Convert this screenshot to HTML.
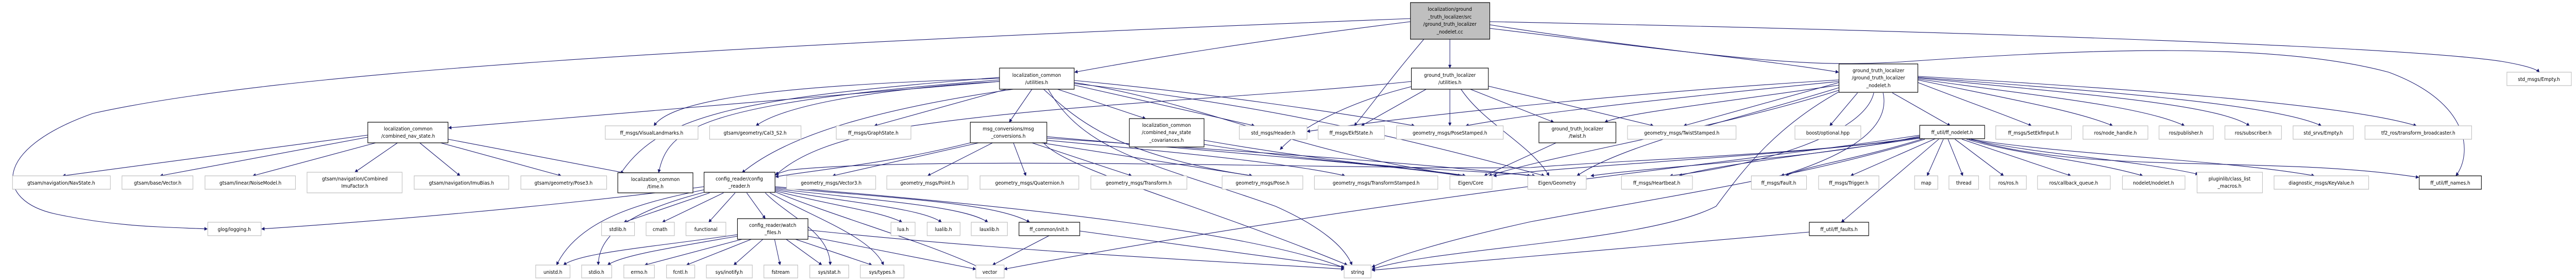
<!DOCTYPE html>
<html><head><meta charset="utf-8"><style>
html,body{margin:0;padding:0;background:#fff;overflow:hidden;width:100%;height:100%;}
svg{display:block;position:absolute;left:0;top:0;width:100vw;height:100vh;}
text{font-family:"DejaVu Sans","Liberation Sans",sans-serif;font-size:10px;fill:#000;text-anchor:middle;}
.l{fill:#fff;stroke:#bfbfbf;stroke-width:1.2;}
.k{fill:#fff;stroke:#000;stroke-width:1.2;}
.e{fill:none;stroke:#191970;stroke-width:1.1;marker-end:url(#a);}
</style></head><body>
<svg viewBox="0 0 5554 543" preserveAspectRatio="none" xmlns="http://www.w3.org/2000/svg">
<defs><marker id="a" viewBox="0 0 10 10" refX="9" refY="5" markerWidth="9" markerHeight="7" markerUnits="userSpaceOnUse" orient="auto"><path d="M0,0 L10,5 L0,10 z" fill="#191970"/></marker></defs>

<path class="e" d="M3126,76 L3126,132"/>
<path class="e" d="M3041,42 C2700,80 2500,110 2317,140"/>
<path class="e" d="M3212,48 C3500,90 3800,115 3964,140"/>
<path class="e" d="M3070,76 C3000,150 2960,200 2920,244"/>
<path class="e" d="M3212,42 C4200,60 5200,90 5400,120 C5450,128 5470,135 5475,140"/>
<path class="e" d="M3212,55 C3800,120 3900,130 4100,120 C4500,95 4900,80 5150,140 C5330,200 5330,300 5295,341"/>
<path class="e" d="M3041,36 C1500,90 600,140 200,220 C-20,290 -10,390 120,415 C250,440 350,440 447,444"/>

<path class="e" d="M2155,158 L967,248"/>
<path class="e" d="M2155,152 C1700,165 1450,190 1410,244"/>
<path class="e" d="M2155,158 C1850,175 1680,210 1630,244"/>
<path class="e" d="M2170,173 L1885,244"/>
<path class="e" d="M2225,173 L2176,237"/>
<path class="e" d="M2280,173 L2470,230"/>
<path class="e" d="M2316,165 L2705,244"/>
<path class="e" d="M2155,150 C1600,190 1420,220 1335,341"/>
<path class="e" d="M2155,155 C1500,200 1440,250 1420,335"/>
<path class="e" d="M2185,173 C1900,210 1700,260 1600,335"/>
<path class="e" d="M2250,173 C2320,230 2400,300 2700,341"/>
<path class="e" d="M2316,160 C2600,200 2800,300 3160,341"/>
<path class="e" d="M2316,162 C2700,200 3000,260 3330,341"/>
<path class="e" d="M2316,156 C2600,180 2900,220 3050,244"/>
<path class="e" d="M2260,173 C2340,300 2500,320 2750,400 C2850,440 2900,480 2915,514"/>

<path class="e" d="M793,262 L135,341"/>
<path class="e" d="M793,266 L345,341"/>
<path class="e" d="M810,277 L545,341"/>
<path class="e" d="M857,277 L765,334"/>
<path class="e" d="M905,277 L992,341"/>
<path class="e" d="M950,277 L1210,341"/>
<path class="e" d="M966,270 L1345,335"/>

<path class="e" d="M2110,277 L1795,341"/>
<path class="e" d="M2140,277 L2000,341"/>
<path class="e" d="M2185,277 L2212,341"/>
<path class="e" d="M2225,277 L2440,341"/>
<path class="e" d="M2245,277 L2700,341"/>
<path class="e" d="M2257,272 C2600,300 2800,320 2900,341"/>
<path class="e" d="M2257,265 C2700,300 3000,320 3150,341"/>
<path class="e" d="M2257,268 C2800,300 3100,320 3300,341"/>
<path class="e" d="M2092,277 C1900,320 1750,330 1672,343"/>
<path class="e" d="M2250,277 C2300,330 2600,400 2905,514"/>

<path class="e" d="M2596,272 C2900,320 3100,330 3160,341"/>
<path class="e" d="M2596,280 C2950,330 3200,330 3310,341"/>

<path class="e" d="M1518,362 C1200,400 800,430 564,444"/>
<path class="e" d="M1530,374 L1345,431"/>
<path class="e" d="M1560,374 L1428,431"/>
<path class="e" d="M1585,374 L1528,431"/>
<path class="e" d="M1610,374 L1650,424"/>
<path class="e" d="M1671,370 C1800,400 1900,410 1945,431"/>
<path class="e" d="M1671,368 C1850,395 1990,405 2030,431"/>
<path class="e" d="M1671,366 C1900,390 2080,400 2130,431"/>
<path class="e" d="M1671,364 C1950,385 2150,395 2220,431"/>
<path class="e" d="M1518,368 C1400,390 1250,420 1200,514"/>
<path class="e" d="M1522,372 C1400,400 1290,440 1290,514"/>
<path class="e" d="M1650,374 C1700,420 1790,450 1790,514"/>
<path class="e" d="M1660,374 C1750,420 1880,460 1905,514"/>
<path class="e" d="M1671,372 C1800,420 2000,470 2115,520"/>
<path class="e" d="M1671,362 C2200,400 2700,450 2900,520"/>

<path class="e" d="M1590,455 C1400,480 1250,490 1215,514"/>
<path class="e" d="M1590,458 C1450,480 1340,495 1310,514"/>
<path class="e" d="M1600,464 L1390,514"/>
<path class="e" d="M1620,464 L1480,514"/>
<path class="e" d="M1645,464 L1582,514"/>
<path class="e" d="M1670,464 L1682,514"/>
<path class="e" d="M1695,464 L1772,514"/>
<path class="e" d="M1715,464 L1880,514"/>
<path class="e" d="M1742,458 L2104,522"/>
<path class="e" d="M1742,446 C2200,490 2700,510 2898,522"/>

<path class="e" d="M2262,457 L2140,514"/>
<path class="e" d="M2328,448 L2898,518"/>

<path class="e" d="M3075,173 L2935,244"/>
<path class="e" d="M3126,173 L3126,244"/>
<path class="e" d="M3170,173 L3350,237"/>
<path class="e" d="M3209,167 L3565,244"/>
<path class="e" d="M3150,173 C3200,240 3300,280 3340,341"/>
<path class="e" d="M3043,158 C2700,190 2300,200 1960,245 C1800,270 1720,300 1672,340"/>
<path class="e" d="M3043,168 C2900,200 2800,250 2760,290"/>

<path class="e" d="M3355,277 L3200,341"/>

<path class="e" d="M3965,158 C3600,190 3300,220 3160,244"/>
<path class="e" d="M3965,160 L3630,244"/>
<path class="e" d="M3965,165 C3700,200 3500,220 3460,237"/>
<path class="e" d="M4005,180 L3945,244"/>
<path class="e" d="M4080,180 L4205,244"/>
<path class="e" d="M4135,160 C4250,200 4330,225 4380,244"/>
<path class="e" d="M4135,155 C4320,190 4480,215 4555,244"/>
<path class="e" d="M4135,153 C4380,185 4620,205 4710,244"/>
<path class="e" d="M4135,151 C4450,180 4780,200 4850,244"/>
<path class="e" d="M4135,150 C4500,175 4900,200 5005,244"/>
<path class="e" d="M4135,148 C4550,170 5050,200 5210,244"/>
<path class="e" d="M3965,170 C3750,230 3500,280 3400,341"/>
<path class="e" d="M3965,175 C3700,250 3350,300 3210,341"/>
<path class="e" d="M3965,178 C3820,250 3750,340 3700,400 C3550,470 3100,480 2958,522"/>
<path class="e" d="M4040,180 C4020,260 3800,320 3600,341"/>
<path class="e" d="M4060,180 C4080,260 3950,310 3840,341"/>
<path class="e" d="M3965,155 C3500,180 3000,230 2818,255"/>

<path class="e" d="M4140,268 C3900,300 3700,320 3620,341"/>
<path class="e" d="M4150,268 C4000,310 3900,320 3850,341"/>
<path class="e" d="M4175,268 L3990,341"/>
<path class="e" d="M4190,270 L4155,341"/>
<path class="e" d="M4200,270 L4232,341"/>
<path class="e" d="M4215,270 L4320,341"/>
<path class="e" d="M4230,270 L4465,341"/>
<path class="e" d="M4240,270 C4350,300 4500,310 4620,341"/>
<path class="e" d="M4245,270 C4400,300 4600,310 4740,338"/>
<path class="e" d="M4250,270 C4450,300 4800,310 4990,341"/>
<path class="e" d="M4250,270 C4500,340 4900,300 5215,344"/>
<path class="e" d="M4180,270 L3970,431"/>
<path class="e" d="M4140,266 C3900,300 3500,310 3300,325 C3000,330 2000,300 1700,330 L1672,338"/>
<path class="e" d="M4150,270 C3900,340 3600,380 3300,430 C3100,470 3000,500 2958,518"/>
<path class="e" d="M4140,262 C3800,310 3000,380 2165,522"/>
<path class="e" d="M4140,264 C3900,310 3600,320 3430,341"/>
<path class="e" d="M4145,266 C3900,300 3400,320 3220,341"/>

<path class="e" d="M3901,450 L2958,524"/>

<rect x="3041" y="5" width="171" height="71" fill="#bfbfbf" stroke="#000" stroke-width="1.2"/>
<text x="3126" y="21">localization/ground</text>
<text x="3126" y="36">_truth_localizer/src</text>
<text x="3126" y="50">/ground_truth_localizer</text>
<text x="3126" y="65">_nodelet.cc</text>

<rect class="k" x="2155" y="132" width="161" height="41"/>
<text x="2235" y="149">localization_common</text><text x="2235" y="163">/utilities.h</text>
<rect class="k" x="3043" y="132" width="166" height="41"/>
<text x="3126" y="149">ground_truth_localizer</text><text x="3126" y="163">/utilities.h</text>
<rect class="k" x="3965" y="124" width="170" height="55"/>
<text x="4050" y="140">ground_truth_localizer</text><text x="4050" y="154">/ground_truth_localizer</text><text x="4050" y="169">_nodelet.h</text>
<rect class="l" x="5405" y="140" width="139" height="26"/><text x="5474" y="157">std_msgs/Empty.h</text>

<rect class="k" x="793" y="237" width="173" height="40"/>
<text x="880" y="253">localization_common</text><text x="880" y="267">/combined_nav_state.h</text>
<rect class="l" x="1305" y="244" width="200" height="26"/><text x="1405" y="261">ff_msgs/VisualLandmarks.h</text>
<rect class="l" x="1530" y="244" width="197" height="26"/><text x="1628" y="261">gtsam/geometry/Cal3_S2.h</text>
<rect class="l" x="1803" y="244" width="161" height="26"/><text x="1883" y="261">ff_msgs/GraphState.h</text>
<rect class="k" x="2092" y="237" width="165" height="40"/>
<text x="2174" y="253">msg_conversions/msg</text><text x="2174" y="267">_conversions.h</text>
<rect class="k" x="2435" y="230" width="161" height="55"/>
<text x="2515" y="246">localization_common</text><text x="2515" y="260">/combined_nav_state</text><text x="2515" y="275">_covariances.h</text>
<rect class="l" x="2672" y="244" width="146" height="26"/><text x="2745" y="261">std_msgs/Header.h</text>
<rect class="l" x="2842" y="244" width="143" height="26"/><text x="2913" y="261">ff_msgs/EkfState.h</text>
<rect class="l" x="3011" y="244" width="230" height="26"/><text x="3126" y="261">geometry_msgs/PoseStamped.h</text>
<rect class="k" x="3318" y="237" width="166" height="40"/>
<text x="3401" y="253">ground_truth_localizer</text><text x="3401" y="267">/twist.h</text>
<rect class="l" x="3509" y="244" width="234" height="26"/><text x="3626" y="261">geometry_msgs/TwistStamped.h</text>
<rect class="l" x="3870" y="244" width="142" height="26"/><text x="3941" y="261">boost/optional.hpp</text>
<rect class="k" x="4139" y="243" width="140" height="26"/><text x="4209" y="260">ff_util/ff_nodelet.h</text>
<rect class="l" x="4303" y="244" width="163" height="26"/><text x="4384" y="261">ff_msgs/SetEkfInput.h</text>
<rect class="l" x="4491" y="244" width="140" height="26"/><text x="4561" y="261">ros/node_handle.h</text>
<rect class="l" x="4655" y="244" width="117" height="26"/><text x="4713" y="261">ros/publisher.h</text>
<rect class="l" x="4797" y="244" width="122" height="26"/><text x="4858" y="261">ros/subscriber.h</text>
<rect class="l" x="4944" y="244" width="130" height="26"/><text x="5009" y="261">std_srvs/Empty.h</text>
<rect class="l" x="5099" y="244" width="230" height="26"/><text x="5214" y="261">tf2_ros/transform_broadcaster.h</text>

<rect class="l" x="27" y="341" width="211" height="26"/><text x="132" y="358">gtsam/navigation/NavState.h</text>
<rect class="l" x="263" y="341" width="153" height="26"/><text x="340" y="358">gtsam/base/Vector.h</text>
<rect class="l" x="442" y="341" width="195" height="26"/><text x="540" y="358">gtsam/linear/NoiseModel.h</text>
<rect class="l" x="662" y="334" width="205" height="40"/><text x="765" y="350">gtsam/navigation/Combined</text><text x="765" y="364">ImuFactor.h</text>
<rect class="l" x="893" y="341" width="204" height="26"/><text x="995" y="358">gtsam/navigation/ImuBias.h</text>
<rect class="l" x="1123" y="341" width="185" height="26"/><text x="1215" y="358">gtsam/geometry/Pose3.h</text>
<rect class="k" x="1332" y="335" width="162" height="39"/><text x="1413" y="351">localization_common</text><text x="1413" y="365">/time.h</text>
<rect class="k" x="1518" y="334" width="153" height="39"/><text x="1594" y="350">config_reader/config</text><text x="1594" y="364">_reader.h</text>
<rect class="l" x="1696" y="341" width="192" height="26"/><text x="1792" y="358">geometry_msgs/Vector3.h</text>
<rect class="l" x="1912" y="341" width="175" height="26"/><text x="2000" y="358">geometry_msgs/Point.h</text>
<rect class="l" x="2113" y="341" width="213" height="26"/><text x="2220" y="358">geometry_msgs/Quaternion.h</text>
<rect class="l" x="2352" y="341" width="207" height="26"/><text x="2455" y="358">geometry_msgs/Transform.h</text>
<rect class="l" x="2635" y="341" width="174" height="26"/><text x="2722" y="358">geometry_msgs/Pose.h</text>
<rect class="l" x="2834" y="341" width="266" height="26"/><text x="2967" y="358">geometry_msgs/TransformStamped.h</text>
<rect class="l" x="3126" y="341" width="91" height="26"/><text x="3171" y="358">Eigen/Core</text>
<rect class="l" x="3294" y="341" width="126" height="26"/><text x="3357" y="358">Eigen/Geometry</text>
<rect class="l" x="3496" y="341" width="153" height="26"/><text x="3572" y="358">ff_msgs/Heartbeat.h</text>
<rect class="l" x="3776" y="341" width="119" height="26"/><text x="3835" y="358">ff_msgs/Fault.h</text>
<rect class="l" x="3921" y="341" width="130" height="26"/><text x="3986" y="358">ff_msgs/Trigger.h</text>
<rect class="l" x="4128" y="341" width="50" height="26"/><text x="4153" y="358">map</text>
<rect class="l" x="4202" y="341" width="64" height="26"/><text x="4234" y="358">thread</text>
<rect class="l" x="4290" y="341" width="79" height="26"/><text x="4330" y="358">ros/ros.h</text>
<rect class="l" x="4393" y="341" width="157" height="26"/><text x="4471" y="358">ros/callback_queue.h</text>
<rect class="l" x="4576" y="341" width="135" height="26"/><text x="4643" y="358">nodelet/nodelet.h</text>
<rect class="l" x="4737" y="334" width="141" height="40"/><text x="4807" y="350">pluginlib/class_list</text><text x="4807" y="364">_macros.h</text>
<rect class="l" x="4903" y="341" width="204" height="26"/><text x="5005" y="358">diagnostic_msgs/KeyValue.h</text>
<rect class="k" x="5216" y="341" width="134" height="26"/><text x="5283" y="358">ff_util/ff_names.h</text>

<rect class="l" x="448" y="431" width="115" height="26"/><text x="505" y="448">glog/logging.h</text>
<rect class="l" x="1297" y="431" width="71" height="26"/><text x="1332" y="448">stdlib.h</text>
<rect class="l" x="1393" y="431" width="61" height="26"/><text x="1423" y="448">cmath</text>
<rect class="l" x="1479" y="431" width="86" height="26"/><text x="1522" y="448">functional</text>
<rect class="k" x="1590" y="424" width="152" height="40"/><text x="1666" y="440">config_reader/watch</text><text x="1666" y="454">_files.h</text>
<rect class="l" x="1921" y="431" width="52" height="26"/><text x="1947" y="448">lua.h</text>
<rect class="l" x="1999" y="431" width="71" height="26"/><text x="2034" y="448">lualib.h</text>
<rect class="l" x="2094" y="431" width="78" height="26"/><text x="2133" y="448">lauxlib.h</text>
<rect class="k" x="2197" y="431" width="131" height="26"/><text x="2262" y="448">ff_common/init.h</text>
<rect class="k" x="3901" y="431" width="128" height="26"/><text x="3965" y="448">ff_util/ff_faults.h</text>

<rect class="l" x="1155" y="514" width="74" height="25"/><text x="1192" y="531">unistd.h</text>
<rect class="l" x="1254" y="514" width="65" height="25"/><text x="1286" y="531">stdio.h</text>
<rect class="l" x="1345" y="514" width="66" height="25"/><text x="1378" y="531">errno.h</text>
<rect class="l" x="1437" y="514" width="61" height="25"/><text x="1467" y="531">fcntl.h</text>
<rect class="l" x="1523" y="514" width="99" height="25"/><text x="1572" y="531">sys/inotify.h</text>
<rect class="l" x="1647" y="514" width="73" height="25"/><text x="1683" y="531">fstream</text>
<rect class="l" x="1746" y="514" width="84" height="25"/><text x="1788" y="531">sys/stat.h</text>
<rect class="l" x="1855" y="514" width="94" height="25"/><text x="1902" y="531">sys/types.h</text>
<rect class="l" x="2104" y="514" width="61" height="25"/><text x="2134" y="531">vector</text>
<rect class="l" x="2898" y="514" width="58" height="25"/><text x="2927" y="531">string</text>
</svg>
</body></html>
